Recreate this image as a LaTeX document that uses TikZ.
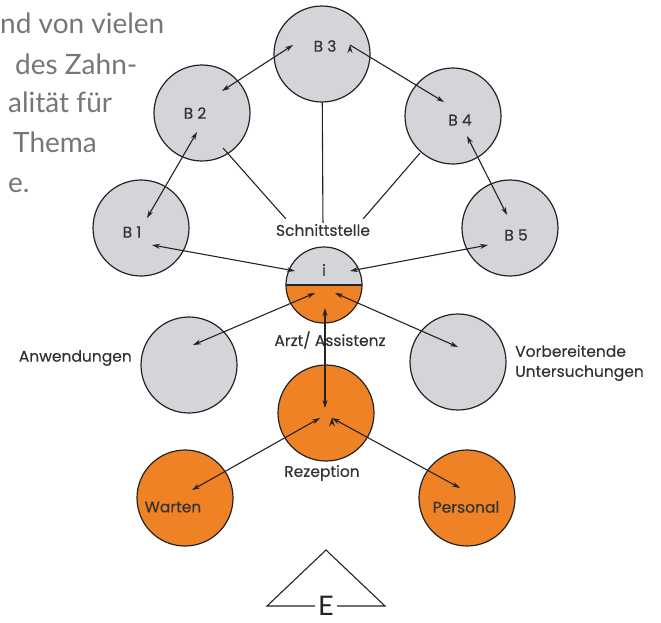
\documentclass[tikz,border=0pt]{standalone}
\usepackage{fontspec}
\setmainfont{Poppins}
\newfontfamily\etikett[FakeBold=0.3]{Poppins}
\newfontfamily\fliessfont{Lato}
\usetikzlibrary{positioning, calc, arrows.meta}
\definecolor{grau}{RGB}{211,213,217}
\definecolor{orangeton}{RGB}{240,130,38}
\definecolor{linie}{RGB}{35,35,35}
\definecolor{schrift}{RGB}{50,50,50}
\definecolor{fliessgrau}{RGB}{118,118,118}

\begin{document}
\begin{tikzpicture}[x=1pt, y=-1pt, >={Stealth[length=8pt,width=5pt]},
    kreis/.style={circle, draw=linie, line width=1.2pt, minimum size=96pt, inner sep=0pt, fill=grau},
    orangekreis/.style={kreis, fill=orangeton},
    rotulo/.style={font=\etikett\fontsize{15.5}{18}\selectfont, text=schrift, inner sep=1pt},
    every label/.append style={rotulo},
    fliess/.style={font=\fliessfont\fontsize{28}{34}\selectfont, text=fliessgrau, inner sep=0pt, anchor=base west},
    verbindung/.style={draw=linie, line width=1.1pt}]
  \useasboundingbox (0,0) rectangle (661,622);

  % Textrest links oben
  \foreach \n/\x/\y/\t in {1/0/33/nd von vielen, 2/15/74/des Zahn-, 3/8/112/alität für, 4/13/152/Thema, 5/8/192/e.}
    \node[fliess] (zeile\n) at (\x,\y) {\t};

  % Bereiche B1 - B5
  \node[kreis, label={[shift={(3,-8)}]center:B 3}]  (B3) at (322,54)  {};
  \node[kreis, label={[shift={(-7,0)}]center:B 2}]  (B2) at (202,113) {};
  \node[kreis, label={[shift={(7,4)}]center:B 4}]   (B4) at (453,116) {};
  \node[kreis, label={[shift={(-9,4)}]center:B 1}]  (B1) at (141,228) {};
  \node[kreis, label={[shift={(6,7)}]center:B 5}]   (B5) at (510,228) {};

  % Schnittstelle
  \node[rotulo] (ST) at (323,230) {Schnittstelle};
  \node[kreis, minimum size=76pt,
        path picture={\fill[orangeton] (path picture bounding box.west) rectangle (path picture bounding box.south east);
                      \draw[linie, line width=1.2pt] (path picture bounding box.west) -- (path picture bounding box.east);},
        label={[shift={(0,-15)}]center:i}] (I) at (324,285) {};
  \node[rotulo] (AA) at (330,340) {Arzt/ Assistenz};

  % untere Ebene
  \node[kreis] (An) at (189,365) {};
  \node[kreis] (Vo) at (458,362) {};
  \node[orangekreis] (Re) at (326,413) {};
  \node[orangekreis, label={[shift={(-12,9)}]center:Warten}]  (Wa) at (185,498) {};
  \node[orangekreis, label={[shift={(-1,9)}]center:Personal}] (Pe) at (467,498) {};
  \node[rotulo, anchor=east] (AnTxt) at (133,358) {Anwendungen};
  \node[rotulo, anchor=west, align=left, font=\etikett\fontsize{15.5}{20}\selectfont] (VoTxt) at (514,363) {Vorbereitende\\Untersuchungen};
  \node[rotulo] (ReTxt) at (322,473) {Rezeption};

  %Pfeile:
  \path[verbindung, <->]
    ($(B2)+(20,-22)$) edge ($(B3)+(-29,-9)$)
    ($(B2)+(-5,19)$)  edge ($(B1)+(6,-10)$)
    ($(B4)+(14,20)$)  edge ($(B5)+(-3,-13)$)
    ($(I)+(-29,-14)$) edge ($(B1)+(11,17)$)
    ($(I)+(26,-14)$)  edge ($(B5)+(-22,17)$)
    ($(I)+(-9,8)$)    edge ($(An)+(4,-20)$)
    ($(I)+(11,8)$)    edge ($(Vo)+(0,-15)$)
    ($(I)+(1,23)$)    edge ($(Re)+(-1,-5)$)
    ($(Re)+(-6,5)$)   edge ($(Wa)+(7,-8)$)
    ($(Re)+(6,5)$)    edge ($(Pe)+(-7,-10)$);
  \path[verbindung, ->] ($(B3)+(28,-9)$) edge ($(B4)+(-9,-14)$);

  %Linien zur Schnittstelle
  \path[verbindung]
    ($(B2)+(21,35)$)  edge ($(ST.north west)+(11,-4)$)
    (B3)              edge (ST)
    ($(B4)+(-33,37)$) edge ($(ST.north east)+(-8,-4)$);

  % Dreieck E
  \coordinate (spitze) at (326,550);
  \coordinate (linksunten) at (267,606);
  \coordinate (rechtsunten) at (385,606);
  \node[font=\fliessfont\fontsize{27}{27}\selectfont, text=linie, inner xsep=3pt, inner ysep=0pt] (E) at (326,606) {E};
  \draw[verbindung] (E.west) -- (linksunten) -- (spitze) -- (rechtsunten) -- (E.east);
\end{tikzpicture}
\end{document}
